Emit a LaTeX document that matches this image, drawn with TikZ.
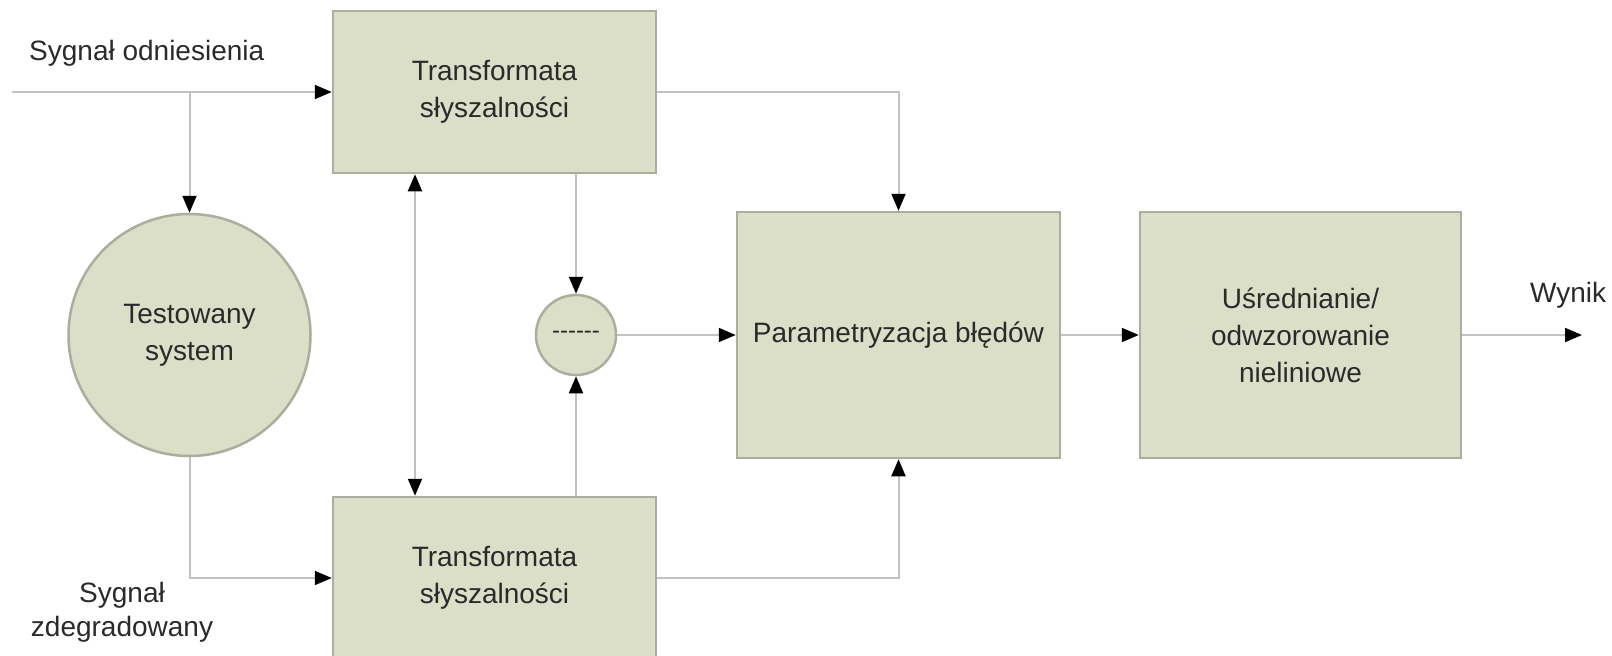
\documentclass[tikz,border=0pt]{standalone}
\usepackage{fontspec}
\setmainfont{Liberation Sans}
\usetikzlibrary{arrows.meta,calc}
\definecolor{boxfill}{HTML}{DCDFC8}
\definecolor{boxline}{HTML}{ABAD9D}
\definecolor{wirecol}{HTML}{C2C2C2}
\definecolor{ink}{HTML}{2A2A2A}

\begin{document}
\begin{tikzpicture}[x=1pt,y=-1pt,
  txt/.style={text=ink, align=center, font=\fontsize{28}{37}\selectfont},
  block/.style={txt, draw=boxline, fill=boxfill, line width=2.5pt, inner sep=0pt},
  rect/.style={block, rectangle},
  disc/.style={block, circle},
  wire/.style={draw=wirecol, line width=2pt},
  tipend/.style={-{Triangle[color=black,length=17pt,width=14pt]}},
  tipboth/.style={{Triangle[color=black,length=17pt,width=14pt]}-{Triangle[color=black,length=17pt,width=14pt]}},
  lbl/.style={txt, inner sep=0pt}
]
% canvas
\fill[white] (0,0) rectangle (1612,656);
\useasboundingbox (0,0) rectangle (1612,656);

% blocks
\node[rect, minimum width=323pt, minimum height=162pt] (top) at (494.5,92) {Transformata\\słyszalności};
\node[rect, minimum width=323pt, minimum height=162pt] (bot) at (494.5,578) {Transformata\\słyszalności};
\node[disc, minimum size=242pt] (sys) at (189.5,335) {Testowany\\system};
\node[disc, minimum size=80pt, font=\fontsize{24}{28}\selectfont] (diff) at (576,335) {-\kern0pt-\kern0pt-\kern0pt-\kern0pt-\kern0pt-};
\node[rect, minimum width=323pt, minimum height=246pt] (param) at (898.5,335) {Parametryzacja błędów};
\node[rect, minimum width=321pt, minimum height=246pt] (avg) at (1300.5,335) {Uśrednianie/\\odwzorowanie\\nieliniowe};

% labels
\node[lbl, anchor=west] (reflbl) at (29,53) {Sygnał odniesienia};
\node[lbl, font=\fontsize{28}{34}\selectfont] (deglbl) at (122,612) {Sygnał\\zdegradowany};
\node[lbl, anchor=west] (outlbl) at (1530,295) {Wynik};

% free ends and helper points
\coordinate (in) at (12,92);
\coordinate (out) at (1582,335);
\coordinate (split) at (sys.north |- in);
\coordinate (dbl) at (415,0);

% connectors
\draw[wire, tipend] (in) -- (top.west);
\draw[wire, tipend] (split) -- (sys.north);
\draw[wire, tipend] (sys.south) |- (bot.west);
\draw[wire, tipboth] (top.south -| dbl) -- (bot.north -| dbl);
\draw[wire, tipend] (top.south -| diff) -- (diff.north);
\draw[wire, tipend] (bot.north -| diff) -- (diff.south);
\draw[wire, tipend] (diff) -- (param.west);
\draw[wire, tipend] (top.east) -| (param.north);
\draw[wire, tipend] (bot.east) -| (param.south);
\draw[wire, tipend] (param) -- (avg);
\draw[wire, tipend] (avg.east) -- (out);
\end{tikzpicture}
\end{document}
